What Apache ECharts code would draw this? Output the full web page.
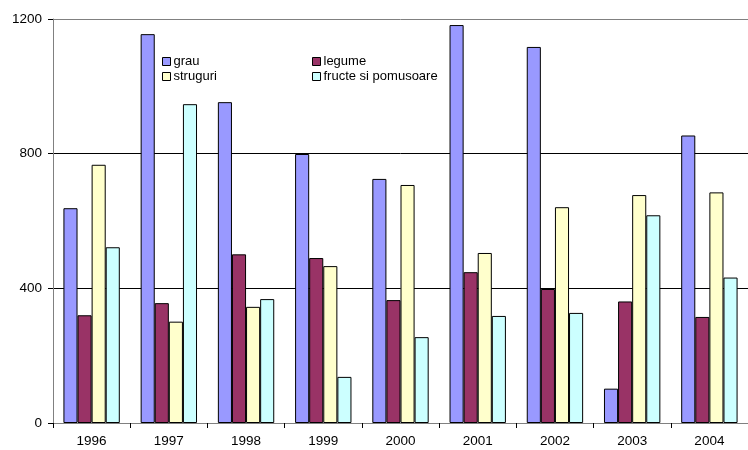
<!DOCTYPE html>
<html>
<head>
<meta charset="utf-8">
<script src="https://cdn.jsdelivr.net/npm/echarts@6/dist/echarts.min.js"></script>
<style>
html,body{margin:0;padding:0;background:#fff;}
#chart{width:748px;height:450px;}
</style>
</head>
<body>
<div id="chart"></div>
<script>
const categories = ['1996','1997','1998','1999','2000','2001','2002','2003','2004'];
const grau = [638, 1155, 953, 799, 725, 1182, 1117, 102, 854];
const legume = [320, 356, 501, 490, 365, 448, 398, 361, 315];
const struguri = [767, 301, 345, 466, 707, 505, 641, 677, 685];
const fructe = [522, 947, 368, 137, 255, 318, 327, 617, 432];
const seriesNames = ['grau', 'legume', 'struguri', 'fructe si pomusoare'];
const seriesData = [grau, legume, struguri, fructe];
const colors = ['#9999FF', '#993366', '#FFFFCC', '#CCFFFF'];
const yTicks = [0, 400, 800, 1200];

const chart = echarts.init(document.getElementById('chart'), null, {renderer: 'canvas'});
const fontFamily = '"Liberation Sans", Arial, sans-serif';

const legendPos = [
  {left: 162, top: 55},
  {left: 312, top: 55},
  {left: 162, top: 70},
  {left: 312, top: 70}
];

const option = {
  animation: false,
  backgroundColor: '#ffffff',
  color: colors,
  grid: {left: 53, top: 19, width: 700, height: 404, containLabel: false},
  legend: seriesNames.map((n, i) => ({
    data: [n],
    left: legendPos[i].left,
    top: legendPos[i].top,
    padding: 0,
    itemWidth: 8,
    itemHeight: 8,
    itemGap: 0,
    icon: 'rect',
    itemStyle: {borderColor: '#000', borderWidth: 1},
    textStyle: {fontFamily: fontFamily, fontSize: 13, color: '#000', padding: [0, 0, 0, -2]},
    selectedMode: false
  })),
  xAxis: {
    type: 'category',
    data: categories,
    axisLine: {lineStyle: {color: '#808080', width: 1}},
    axisTick: {show: true, length: 5, lineStyle: {color: '#000'}},
    axisLabel: {fontFamily: fontFamily, fontSize: 13.5, color: '#000', margin: 11},
    splitLine: {show: false}
  },
  yAxis: {
    type: 'value',
    min: yTicks[0],
    max: yTicks[yTicks.length - 1],
    interval: 400,
    axisLine: {show: true, lineStyle: {color: '#808080', width: 1}},
    axisTick: {show: true, length: 5, lineStyle: {color: '#000'}},
    axisLabel: {fontFamily: fontFamily, fontSize: 13.5, color: '#000', margin: 11, formatter: v => String(v)},
    splitLine: {show: true, lineStyle: {color: ['#808080', '#000000', '#000000', '#808080'], width: 1}}
  },
  series: seriesNames.map((n, i) => ({
    name: n,
    type: 'bar',
    data: seriesData[i],
    barGap: '0%',
    barCategoryGap: '27%',
    itemStyle: {color: colors[i], borderColor: '#000', borderWidth: 1}
  }))
};
chart.setOption(option);
</script>
</body>
</html>
